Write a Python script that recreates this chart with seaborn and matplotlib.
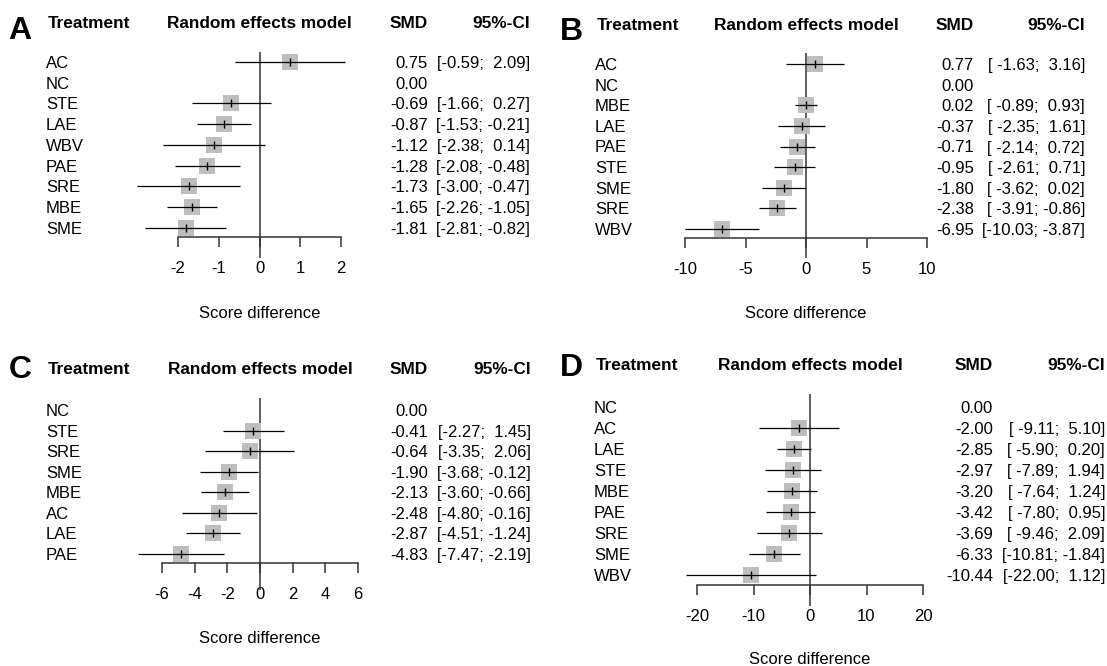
import numpy as np
import pandas as pd
import seaborn as sns
import matplotlib.pyplot as plt
from matplotlib.transforms import blended_transform_factory

W, H = 1107, 666

# panel A
a_trt = ["AC", "NC", "STE", "LAE", "WBV", "PAE", "SRE", "MBE", "SME"]
a_smd = [0.75, 0.00, -0.69, -0.87, -1.12, -1.28, -1.73, -1.65, -1.81]
a_lo = [-0.59, np.nan, -1.66, -1.53, -2.38, -2.08, -3.00, -2.26, -2.81]
a_hi = [2.09, np.nan, 0.27, -0.21, 0.14, -0.48, -0.47, -1.05, -0.82]
a_ticks = [-2, -1, 0, 1, 2]

# panel B
b_trt = ["AC", "NC", "MBE", "LAE", "PAE", "STE", "SME", "SRE", "WBV"]
b_smd = [0.77, 0.00, 0.02, -0.37, -0.71, -0.95, -1.80, -2.38, -6.95]
b_lo = [-1.63, np.nan, -0.89, -2.35, -2.14, -2.61, -3.62, -3.91, -10.03]
b_hi = [3.16, np.nan, 0.93, 1.61, 0.72, 0.71, 0.02, -0.86, -3.87]
b_ticks = [-10, -5, 0, 5, 10]

# panel C
c_trt = ["NC", "STE", "SRE", "SME", "MBE", "AC", "LAE", "PAE"]
c_smd = [0.00, -0.41, -0.64, -1.90, -2.13, -2.48, -2.87, -4.83]
c_lo = [np.nan, -2.27, -3.35, -3.68, -3.60, -4.80, -4.51, -7.47]
c_hi = [np.nan, 1.45, 2.06, -0.12, -0.66, -0.16, -1.24, -2.19]
c_ticks = [-6, -4, -2, 0, 2, 4, 6]

# panel D
d_trt = ["NC", "AC", "LAE", "STE", "MBE", "PAE", "SRE", "SME", "WBV"]
d_smd = [0.00, -2.00, -2.85, -2.97, -3.20, -3.42, -3.69, -6.33, -10.44]
d_lo = [np.nan, -9.11, -5.90, -7.89, -7.64, -7.80, -9.46, -10.81, -22.00]
d_hi = [np.nan, 5.10, 0.20, 1.94, 1.24, 0.95, 2.09, -1.84, 1.12]
d_ticks = [-20, -10, 0, 10, 20]

# layout of each panel in pixels
geo_a = dict(x0=178, x1=341, row0=62, rowN=228, axis=237, ztop=52, zbot=258, xlab=312,
             head=22, let=(20, 28), lab=46, smd=428, ci=530)
geo_b = dict(x0=685, x1=927, row0=64, rowN=229, axis=238, ztop=53, zbot=258, xlab=312,
             head=24, let=(571, 29), lab=595, smd=974, ci=1085)
geo_c = dict(x0=162, x1=358, row0=410, rowN=554, axis=563, ztop=398, zbot=590, xlab=637,
             head=368, let=(20, 367), lab=46, smd=428, ci=531)
geo_d = dict(x0=697, x1=923, row0=407, rowN=575, axis=585, ztop=394, zbot=606, xlab=658,
             head=364, let=(571, 364), lab=594, smd=993, ci=1105)

sns.set_style("white")
plt.rcParams['font.family'] = ['Liberation Sans', 'DejaVu Sans']
plt.rcParams['axes.unicode_minus'] = False
plt.rcParams['text.color'] = 'black'
plt.rcParams['xtick.labelcolor'] = 'black'

LINE = '#333333'


def ci_strings(lo, hi):
    lo_s = ['' if np.isnan(v) else f'{v:.2f}' for v in lo]
    hi_s = ['' if np.isnan(v) else f'{v:.2f}' for v in hi]
    wl = max(len(s) for s in lo_s)
    wh = max(len(s) for s in hi_s)
    return ['' if not l else '[' + l.rjust(wl) + '; ' + h.rjust(wh) + ']'
            for l, h in zip(lo_s, hi_s)]


def forest(fig, letter, trt, smd, lo, hi, ticks, g):
    n = len(trt)
    sp = (g['rowN'] - g['row0']) / (n - 1)
    ax = fig.add_axes([g['x0'] / W, 1 - g['axis'] / H,
                       (g['x1'] - g['x0']) / W, (g['axis'] - g['ztop']) / H])
    py = lambda y: (y - g['row0']) / sp
    ax.set_xlim(ticks[0], ticks[-1])
    ax.set_ylim(py(g['axis']), py(g['ztop']))

    df = pd.DataFrame({'trt': trt, 'smd': smd, 'lo': lo, 'hi': hi, 'row': np.arange(n)})
    est = df.dropna()

    ax.vlines(0, py(g['ztop']), py(g['zbot']), color=LINE, lw=1.1, clip_on=False, zorder=1)
    sns.scatterplot(data=est, x='smd', y='row', marker='s', s=125, color='#BEBEBE',
                    linewidth=0, ax=ax, clip_on=False, zorder=2, legend=False)
    ax.hlines(est['row'], est['lo'], est['hi'], color='black', lw=0.9, clip_on=False, zorder=3)
    sns.scatterplot(data=est, x='smd', y='row', marker='|', s=28, color='black',
                    linewidth=1.0, ax=ax, clip_on=False, zorder=4, legend=False)

    ax.set_xticks(ticks)
    ax.set_xticklabels([str(t) for t in ticks])
    ax.set_yticks([])
    ax.set_xlabel('')
    ax.set_ylabel('')
    ax.tick_params(axis='x', bottom=True, direction='out', length=7.5, width=1.1,
                   color=LINE, pad=10, labelsize=12)
    for s in ['left', 'top', 'right']:
        ax.spines[s].set_visible(False)
    ax.spines['bottom'].set_color(LINE)
    ax.spines['bottom'].set_linewidth(1.1)

    tr = blended_transform_factory(fig.transFigure, ax.transData)
    tra = blended_transform_factory(ax.transAxes, ax.transData)
    cis = ci_strings(lo, hi)
    for i in range(n):
        ax.text(g['lab'] / W, i, trt[i], transform=tr, ha='left', va='center_baseline', fontsize=12)
        ax.text(g['smd'] / W, i, f'{smd[i]:.2f}', transform=tr, ha='right',
                va='center_baseline', fontsize=12)
        ax.text(g['ci'] / W, i, cis[i], transform=tr, ha='right', va='center_baseline', fontsize=12)

    hy = py(g['head'])
    hfs = 12.4
    ax.text((g['lab'] + 2) / W, hy, 'Treatment', transform=tr, ha='left', va='center_baseline',
            fontsize=hfs, fontweight='bold')
    ax.text(0.5, hy, 'Random effects model', transform=tra, ha='center', va='center_baseline',
            fontsize=hfs, fontweight='bold')
    ax.text(g['smd'] / W, hy, 'SMD', transform=tr, ha='right', va='center_baseline',
            fontsize=hfs, fontweight='bold')
    ax.text(g['ci'] / W, hy, '95%-CI', transform=tr, ha='right', va='center_baseline',
            fontsize=hfs, fontweight='bold')
    ax.text(g['let'][0] / W, py(g['let'][1]), letter, transform=tr, ha='center',
            va='center_baseline', fontsize=23, fontweight='bold')
    ax.text(0.5, py(g['xlab']), 'Score difference', transform=tra, ha='center',
            va='center_baseline', fontsize=12)
    return ax


fig = plt.figure(figsize=(W / 100, H / 100), dpi=100)
forest(fig, 'A', a_trt, a_smd, a_lo, a_hi, a_ticks, geo_a)
forest(fig, 'B', b_trt, b_smd, b_lo, b_hi, b_ticks, geo_b)
forest(fig, 'C', c_trt, c_smd, c_lo, c_hi, c_ticks, geo_c)
forest(fig, 'D', d_trt, d_smd, d_lo, d_hi, d_ticks, geo_d)
fig.savefig('out.png', dpi=100, facecolor='white')
